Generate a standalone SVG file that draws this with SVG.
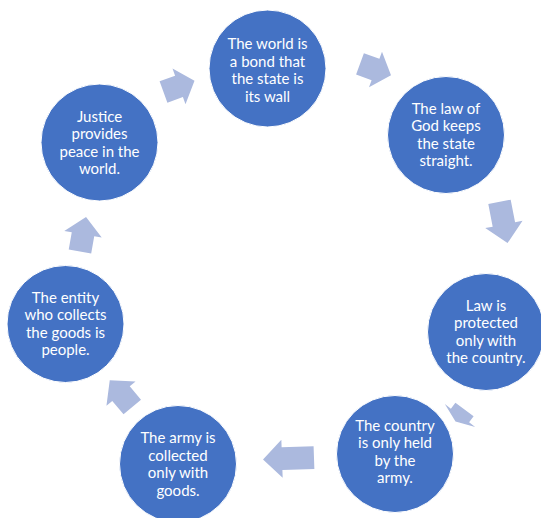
<svg xmlns="http://www.w3.org/2000/svg" width="541" height="518" viewBox="0 0 541 518">
<style>
.node circle{fill:#4472c4;stroke:#ffffff;stroke-width:1}
.node text{font-family:Lato,"Open Sans","Liberation Sans",sans-serif;font-size:15px;fill:#ffffff;text-anchor:middle}
.arrow{fill:#abb9de}
</style>
<rect width="541" height="518" fill="#ffffff"/>
<g id="connectors">
<polygon class="arrow" points="-16.5,-11.4 0,-11.4 0,-19 16.5,0 0,19 0,11.4 -16.5,11.4" transform="translate(179,86.4) rotate(-20)"/>
<polygon class="arrow" points="-16.5,-11.4 0,-11.4 0,-19 16.5,0 0,19 0,11.4 -16.5,11.4" transform="translate(375.5,69.5) rotate(20)"/>
<polygon class="arrow" points="-21,-11.4 2,-11.4 2,-19 21,0 2,19 2,11.4 -21,11.4" transform="translate(503.5,222.5) rotate(79)"/>
<polygon class="arrow" points="-7.5,-11.4 0,-11.4 0,-19 7.5,0 0,19 0,11.4 -7.5,11.4" transform="translate(460,415.5) rotate(127)"/>
<polygon class="arrow" points="-25.5,-11.4 6.5,-11.4 6.5,-19 25.5,0 6.5,19 6.5,11.4 -25.5,11.4" transform="translate(288.5,458.5) rotate(178)"/>
<polygon class="arrow" points="-17.5,-11.4 0,-11.4 0,-19 17.5,0 0,19 0,11.4 -17.5,11.4" transform="translate(121,393.6) rotate(-130)"/>
<polygon class="arrow" points="-17.5,-11.4 0,-11.4 0,-19 17.5,0 0,19 0,11.4 -17.5,11.4" transform="translate(83,234.3) rotate(-80)"/>
</g>
<g id="node1" class="node">
<circle cx="267.5" cy="68.5" r="58.5"/>
<text x="267.5" y="49"><tspan x="267.5" y="49">The world is</tspan><tspan x="267.5" y="66.5">a bond that</tspan><tspan x="267.5" y="84">the state is</tspan><tspan x="267.5" y="101.5">its wall</tspan></text>
</g>
<g id="node2" class="node">
<circle cx="446" cy="135" r="58.5"/>
<text x="446" y="113.5"><tspan x="446" y="113.5">The law of</tspan><tspan x="446" y="131">God keeps</tspan><tspan x="446" y="148.5">the state</tspan><tspan x="446" y="166">straight.</tspan></text>
</g>
<g id="node3" class="node">
<circle cx="486" cy="332" r="58.5"/>
<text x="486" y="310.5"><tspan x="486" y="310.5">Law is</tspan><tspan x="486" y="328">protected</tspan><tspan x="486" y="345.5">only with</tspan><tspan x="486" y="363">the country.</tspan></text>
</g>
<g id="node4" class="node">
<circle cx="395" cy="454" r="58.5"/>
<text x="395" y="430.5"><tspan x="395" y="430.5">The country</tspan><tspan x="395" y="448">is only held</tspan><tspan x="395" y="465.5">by the</tspan><tspan x="395" y="483">army.</tspan></text>
</g>
<g id="node5" class="node">
<circle cx="178" cy="464" r="58.5"/>
<text x="178" y="443"><tspan x="178" y="443">The army is</tspan><tspan x="178" y="460.5">collected</tspan><tspan x="178" y="478">only with</tspan><tspan x="178" y="495.5">goods.</tspan></text>
</g>
<g id="node6" class="node">
<circle cx="65.5" cy="324" r="58.5"/>
<text x="65.5" y="302.5"><tspan x="65.5" y="302.5">The entity</tspan><tspan x="65.5" y="320">who collects</tspan><tspan x="65.5" y="337.5">the goods is</tspan><tspan x="65.5" y="355">people.</tspan></text>
</g>
<g id="node7" class="node">
<circle cx="99.5" cy="142.5" r="58.5"/>
<text x="99.5" y="121.5"><tspan x="99.5" y="121.5">Justice</tspan><tspan x="99.5" y="139">provides</tspan><tspan x="99.5" y="156.5">peace in the</tspan><tspan x="99.5" y="174">world.</tspan></text>
</g>
</svg>
